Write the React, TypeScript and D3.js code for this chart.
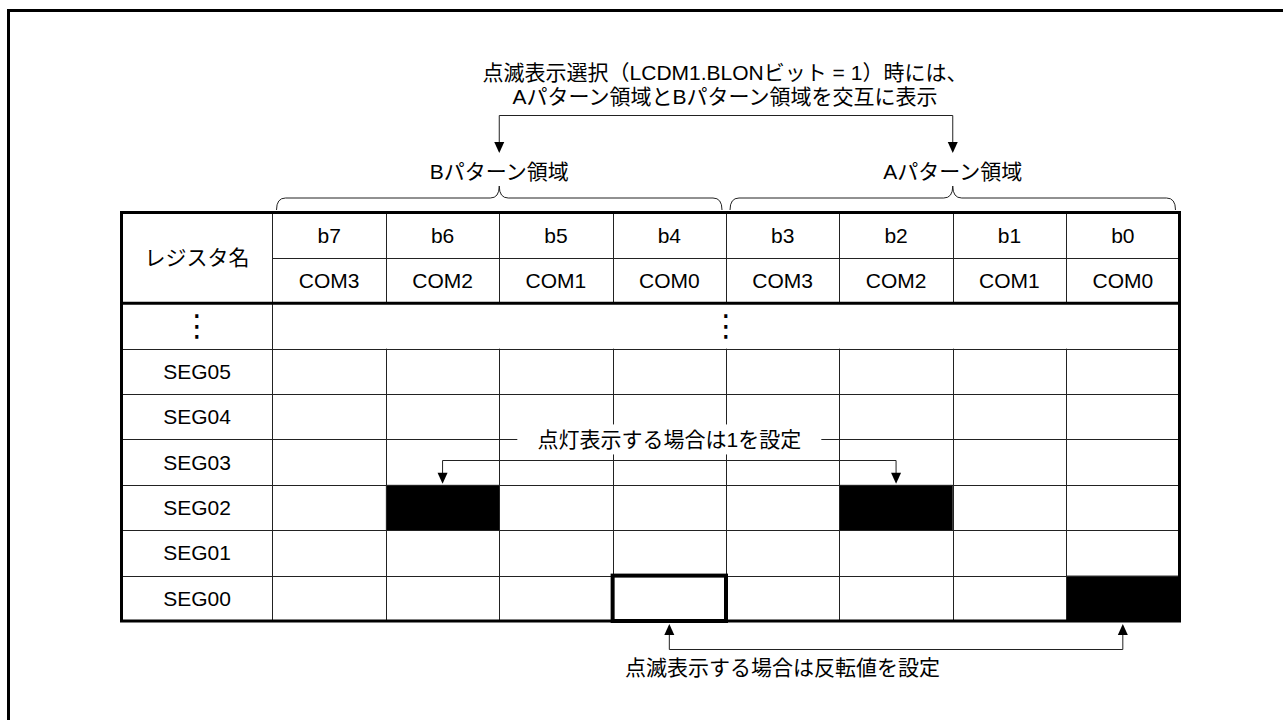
import React from "react";
import * as d3 from "d3";

const bits = ["b7", "b6", "b5", "b4", "b3", "b2", "b1", "b0"];
const coms = ["COM3", "COM2", "COM1", "COM0", "COM3", "COM2", "COM1", "COM0"];
const segs = ["SEG05", "SEG04", "SEG03", "SEG02", "SEG01", "SEG00"];
const litCells = [
  { seg: "SEG02", bit: "b6" },
  { seg: "SEG02", bit: "b2" },
  { seg: "SEG00", bit: "b0" },
];
const blinkCell = { seg: "SEG00", bit: "b4" };
const groups = [
  { label: "Bパターン領域", from: "b7", to: "b4", tip: "b5" },
  { label: "Aパターン領域", from: "b3", to: "b0", tip: "b1" },
];
const titleLines = [
  "点滅表示選択（LCDM1.BLONビット = 1）時には、",
  "Aパターン領域とBパターン領域を交互に表示",
];
const registerHeader = "レジスタ名";
const ellipsis = "⋮";
const setNote = { text: "点灯表示する場合は1を設定", from: "b6", to: "b2", at: "b4" };
const blinkNote = { text: "点滅表示する場合は反転値を設定", from: "b4", to: "b0" };

const W = 1283;
const H = 720;
const FONT = "'Liberation Sans', Arial, 'Noto Sans CJK JP', sans-serif";
const FS = 21;
const INK = "#000";
const LINE = "#222";

export default function App() {
  const labelLeft = 121.5;
  const labelRight = 272.5;
  const x = d3.scaleBand<string>().domain(bits).range([labelRight, 1179.5]);
  const rowKeys = ["bit", "com", "dots", ...segs];
  const y = d3.scaleBand<string>().domain(rowKeys).range([212.5, 621]);
  const bw = x.bandwidth();
  const rh = y.bandwidth();
  const right = 1179.5;
  const top = y("bit")!;
  const bottom = y("SEG00")! + rh;
  const hdrBottom = y("dots")!;
  const xc = (b: string) => x(b)! + bw / 2;
  const yc = (k: string) => y(k)! + rh / 2;

  const arrowDown = (ax: number, tip: number) =>
    `M${ax - 5},${tip - 11}L${ax + 5},${tip - 11}L${ax},${tip}Z`;
  const arrowUp = (ax: number, tip: number) =>
    `M${ax - 5},${tip + 11}L${ax + 5},${tip + 11}L${ax},${tip}Z`;

  const braceY = 198;
  const braceEndY = 210;
  const braceTipY = 186;
  const brace = (x0: number, x1: number, tx: number) => {
    const r = 9;
    return (
      `M${x0},${braceEndY}Q${x0},${braceY} ${x0 + r},${braceY}` +
      `L${tx - r},${braceY}Q${tx},${braceY} ${tx},${braceTipY}` +
      `Q${tx},${braceY} ${tx + r},${braceY}` +
      `L${x1 - r},${braceY}Q${x1},${braceY} ${x1},${braceEndY}`
    );
  };

  const topBracketY = 115.5;
  const topArrowTip = 153;
  const gA = groups[0];
  const gB = groups[1];

  const midLineY = 460.5;
  const midTip = y("SEG02")! - 1;
  const noteY = y("SEG03")!;
  const noteX = xc(setNote.at);

  const botTip = bottom + 3;
  const botLineY = 649.5;

  return (
    <svg
      width={W}
      height={H}
      viewBox={`0 0 ${W} ${H}`}
      style={{ position: "absolute", left: 0, top: 0, background: "#fff" }}
      fontFamily={FONT}
      fontSize={FS}
    >
      <rect x={0} y={0} width={W} height={H} fill="#fff" />
      <rect x={8.5} y={10.5} width={1400} height={900} fill="none" stroke="#000" strokeWidth={3} />

      {titleLines.map((t, i) => (
        <text key={i} x={725} y={72 + i * 24} textAnchor="middle" dominantBaseline="central" fill={INK}>
          {t}
        </text>
      ))}
      <path
        d={`M${x(gA.tip)},${topArrowTip - 10}V${topBracketY}H${x(gB.tip)}V${topArrowTip - 10}`}
        fill="none"
        stroke={LINE}
        strokeWidth={1}
      />
      <path d={arrowDown(x(gA.tip)!, topArrowTip)} fill="#000" />
      <path d={arrowDown(x(gB.tip)!, topArrowTip)} fill="#000" />

      {groups.map((g) => (
        <g key={g.label}>
          <text x={x(g.tip)} y={171} textAnchor="middle" dominantBaseline="central" fill={INK}>
            {g.label}
          </text>
          <path
            d={brace(x(g.from)! + 4, x(g.to)! + bw - 4, x(g.tip)!)}
            fill="none"
            stroke={LINE}
            strokeWidth={1}
          />
        </g>
      ))}

      <rect x={labelLeft} y={top} width={right - labelLeft} height={bottom - top} fill="#fff" />

      {litCells.map((c, i) => (
        <rect key={i} x={x(c.bit)} y={y(c.seg)} width={bw} height={rh} fill="#000" />
      ))}

      {bits.slice(1).map((b) => (
        <g key={b}>
          <line x1={Math.round(x(b)!) + 0.5} x2={Math.round(x(b)!) + 0.5} y1={top} y2={hdrBottom} stroke={LINE} />
          <line x1={Math.round(x(b)!) + 0.5} x2={Math.round(x(b)!) + 0.5} y1={y("SEG05")} y2={bottom} stroke={LINE} />
        </g>
      ))}
      <line x1={labelRight} x2={labelRight} y1={top} y2={bottom} stroke={LINE} />
      <line x1={labelRight} x2={right} y1={Math.round(y("com")!) + 0.5} y2={Math.round(y("com")!) + 0.5} stroke={LINE} />
      {["SEG05", ...segs.slice(1)].map((k) => (
        <line key={k} x1={labelLeft} x2={right} y1={Math.round(y(k)!) + 0.5} y2={Math.round(y(k)!) + 0.5} stroke={LINE} />
      ))}

      <text x={(labelLeft + labelRight) / 2} y={hdrBottom - rh} textAnchor="middle" dominantBaseline="central" fill={INK}>
        {registerHeader}
      </text>
      {bits.map((b, i) => (
        <g key={b}>
          <text x={xc(b)} y={yc("bit")} textAnchor="middle" dominantBaseline="central" fill={INK}>
            {b}
          </text>
          <text x={xc(b)} y={yc("com")} textAnchor="middle" dominantBaseline="central" fill={INK}>
            {coms[i]}
          </text>
        </g>
      ))}

      <text x={(labelLeft + labelRight) / 2} y={yc("dots")} textAnchor="middle" dominantBaseline="central" fontFamily="'DejaVu Sans'" fontSize={30} fill={INK}>
        {ellipsis}
      </text>
      <text x={x("b3")} y={yc("dots")} textAnchor="middle" dominantBaseline="central" fontFamily="'DejaVu Sans'" fontSize={30} fill={INK}>
        {ellipsis}
      </text>

      {segs.map((s) => (
        <text key={s} x={(labelLeft + labelRight) / 2} y={yc(s)} textAnchor="middle" dominantBaseline="central" fill={INK}>
          {s}
        </text>
      ))}

      <rect x={noteX - 152} y={noteY - 15} width={304} height={30} fill="#fff" />
      <text x={noteX} y={noteY} textAnchor="middle" dominantBaseline="central" fill={INK}>
        {setNote.text}
      </text>
      <path
        d={`M${xc(setNote.from)},${midTip - 10}V${midLineY}H${xc(setNote.to)}V${midTip - 10}`}
        fill="none"
        stroke={LINE}
      />
      <path d={arrowDown(xc(setNote.from), midTip)} fill="#000" />
      <path d={arrowDown(xc(setNote.to), midTip)} fill="#000" />

      <line x1={labelLeft} x2={right} y1={hdrBottom} y2={hdrBottom} stroke="#000" strokeWidth={3} />
      <rect x={labelLeft} y={top} width={right - labelLeft} height={bottom - top} fill="none" stroke="#000" strokeWidth={3} />
      <rect x={x(blinkCell.bit)} y={y(blinkCell.seg)} width={bw} height={rh} fill="none" stroke="#000" strokeWidth={4} />

      <path
        d={`M${xc(blinkNote.from)},${botTip + 10}V${botLineY}H${xc(blinkNote.to)}V${botTip + 10}`}
        fill="none"
        stroke={LINE}
      />
      <path d={arrowUp(xc(blinkNote.from), botTip)} fill="#000" />
      <path d={arrowUp(xc(blinkNote.to), botTip)} fill="#000" />
      <text x={625} y={667} dominantBaseline="central" fill={INK}>
        {blinkNote.text}
      </text>
    </svg>
  );
}
